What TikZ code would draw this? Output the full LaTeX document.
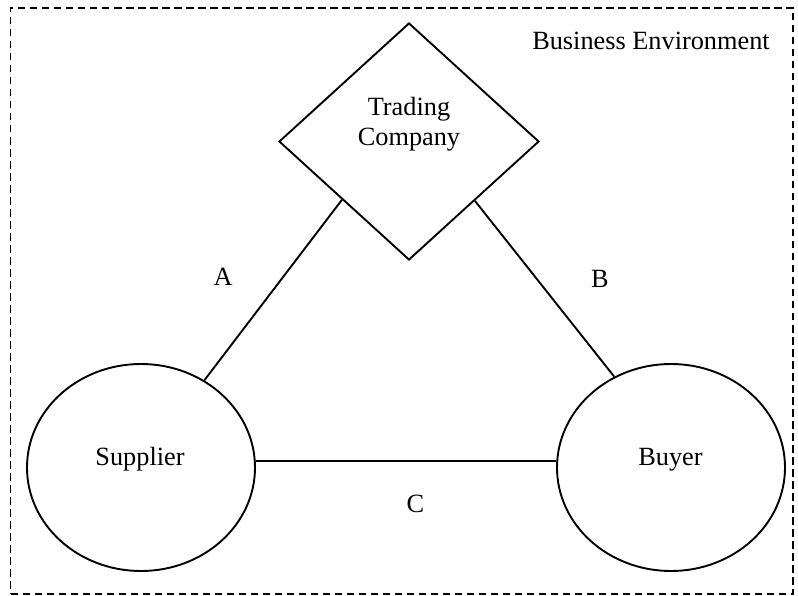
\documentclass[tikz,border=0pt]{standalone}
\usepackage{fontspec}
\setmainfont{Liberation Serif}
\usetikzlibrary{shapes.geometric}
\begin{document}
\begin{tikzpicture}[x=1pt,y=-1pt,
  txt/.style={font=\fontsize{26.3}{30.5}\selectfont, inner sep=0pt, align=center},
  party/.style={draw, ellipse, line width=1.9pt, minimum width=228, minimum height=207, inner sep=0pt},
  broker/.style={draw, diamond, line width=1.9pt, minimum width=260, minimum height=237, inner sep=0pt},
  link/.style={line width=1.9pt},
  envbox/.style={draw, dash pattern=on 7.5pt off 4.5pt, line width=1.3pt, minimum width=782.5, minimum height=586, inner sep=0pt}]
\useasboundingbox (0,0) rectangle (798,596);

% business environment frame
\node[envbox] (env) at (401.75,301) {};
\node[txt, anchor=base] (envlabel) at (651,50) {Business Environment};

% the three parties
\node[broker] (tc) at (409,141.5) {};
\node[txt] (tctext) at (409,124.1) {Trading\\Company};
\node[party] (sup) at (141,467.5) {};
\node[txt, anchor=base] (suptext) at (140,465.5) {Supplier};
\node[party] (buy) at (671,467.5) {};
\node[txt, anchor=base] (buytext) at (670.5,465) {Buyer};

% relationships
\coordinate (clevel) at (0,461);
\draw[link] (sup.54.4) -- (tc.221.6);
\draw[link] (tc.318.4) -- (buy.122.2);
\draw[link] (clevel -| sup.east) -- (clevel -| buy.west);

\node[txt, anchor=base] (la) at (223,285) {A};
\node[txt, anchor=base] (lb) at (600,287.3) {B};
\node[txt, anchor=base] (lc) at (415.5,512.3) {C};
\end{tikzpicture}
\end{document}
